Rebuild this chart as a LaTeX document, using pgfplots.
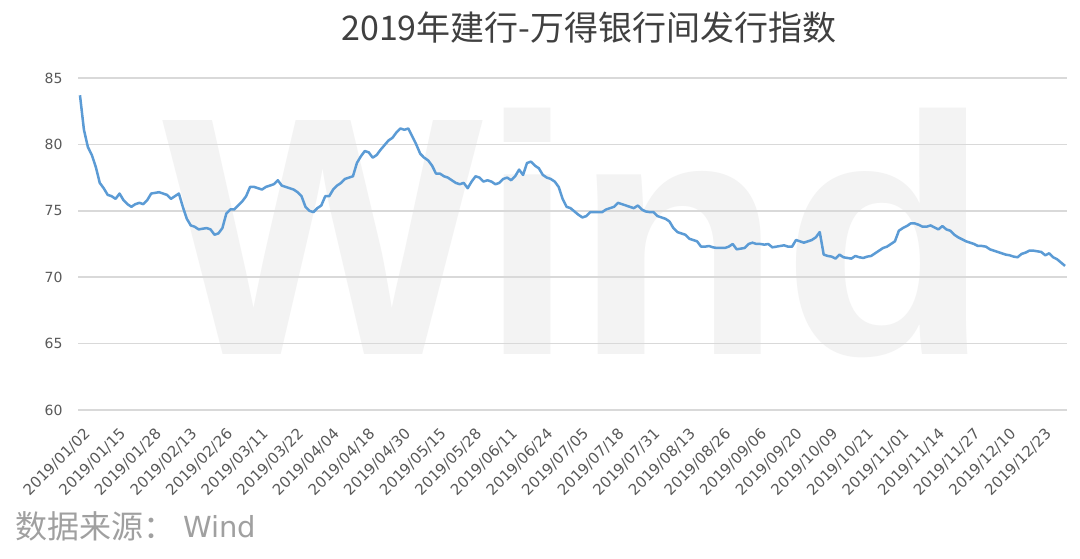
\documentclass[border=0pt]{standalone}
\usepackage{fontspec}
\setmainfont{Noto Sans CJK SC}
\newfontfamily\wmfont{Liberation Sans}
\newfontfamily\dv{DejaVu Sans}
\usepackage{pgfplots}
\pgfplotsset{compat=1.18}
\usepackage{pgfplotstable}
\definecolor{linecol}{HTML}{5B9BD5}
\definecolor{gridcol}{HTML}{D9D9D9}
\definecolor{tickcol}{HTML}{595959}
\definecolor{titlecol}{HTML}{404040}
\definecolor{srccol}{HTML}{A0A0A0}
\definecolor{wmcol}{HTML}{F3F3F3}
\pgfplotstableread{
i v
0 83.7
1 81.1
2 79.8
3 79.2
4 78.3
5 77.1
6 76.7
7 76.2
8 76.1
9 75.9
10 76.3
11 75.8
12 75.5
13 75.3
14 75.5
15 75.6
16 75.5
17 75.8
18 76.3
19 76.35
20 76.4
21 76.3
22 76.2
23 75.9
24 76.1
25 76.3
26 75.3
27 74.4
28 73.9
29 73.8
30 73.6
31 73.65
32 73.7
33 73.6
34 73.2
35 73.3
36 73.7
37 74.8
38 75.1
39 75.1
40 75.4
41 75.7
42 76.1
43 76.8
44 76.8
45 76.7
46 76.6
47 76.8
48 76.9
49 77.0
50 77.3
51 76.9
52 76.8
53 76.7
54 76.6
55 76.4
56 76.1
57 75.3
58 75.0
59 74.9
60 75.2
61 75.4
62 76.1
63 76.1
64 76.6
65 76.9
66 77.1
67 77.4
68 77.5
69 77.6
70 78.6
71 79.1
72 79.5
73 79.4
74 79.0
75 79.2
76 79.6
77 79.95
78 80.3
79 80.5
80 80.9
81 81.2
82 81.1
83 81.2
84 80.6
85 80.0
86 79.3
87 79.0
88 78.8
89 78.4
90 77.8
91 77.8
92 77.6
93 77.5
94 77.3
95 77.1
96 77.0
97 77.1
98 76.7
99 77.2
100 77.6
101 77.5
102 77.2
103 77.3
104 77.2
105 77.0
106 77.1
107 77.4
108 77.5
109 77.3
110 77.6
111 78.1
112 77.7
113 78.6
114 78.7
115 78.4
116 78.2
117 77.7
118 77.5
119 77.4
120 77.2
121 76.8
122 75.9
123 75.3
124 75.2
125 74.95
126 74.7
127 74.5
128 74.6
129 74.9
130 74.9
131 74.9
132 74.9
133 75.1
134 75.2
135 75.3
136 75.6
137 75.5
138 75.4
139 75.3
140 75.2
141 75.4
142 75.1
143 74.95
144 74.9
145 74.9
146 74.6
147 74.5
148 74.4
149 74.2
150 73.7
151 73.4
152 73.3
153 73.2
154 72.9
155 72.8
156 72.7
157 72.3
158 72.3
159 72.35
160 72.25
161 72.2
162 72.2
163 72.2
164 72.3
165 72.5
166 72.1
167 72.15
168 72.2
169 72.5
170 72.6
171 72.5
172 72.5
173 72.45
174 72.5
175 72.25
176 72.3
177 72.35
178 72.4
179 72.3
180 72.3
181 72.8
182 72.7
183 72.6
184 72.7
185 72.8
186 73.0
187 73.4
188 71.7
189 71.6
190 71.55
191 71.4
192 71.7
193 71.5
194 71.45
195 71.4
196 71.6
197 71.5
198 71.45
199 71.55
200 71.6
201 71.8
202 72.0
203 72.2
204 72.3
205 72.5
206 72.7
207 73.5
208 73.7
209 73.85
210 74.05
211 74.05
212 73.95
213 73.8
214 73.8
215 73.9
216 73.75
217 73.6
218 73.85
219 73.6
220 73.5
221 73.2
222 73.0
223 72.85
224 72.7
225 72.6
226 72.5
227 72.35
228 72.35
229 72.3
230 72.1
231 72.0
232 71.9
233 71.8
234 71.7
235 71.65
236 71.55
237 71.5
238 71.75
239 71.85
240 72.0
241 72.0
242 71.95
243 71.9
244 71.65
245 71.8
246 71.5
247 71.35
248 71.1
249 70.85
}\idx
\begin{document}
\begin{tikzpicture}[x=1pt,y=1pt]
\useasboundingbox[fill=white] (0,0) rectangle (1080,559);
% watermark
\node[anchor=base west, inner sep=0pt, text=wmcol, font=\wmfont\bfseries\fontsize{340}{340}\selectfont] at (162,204) {Wind};
\begin{axis}[
  at={(78pt,149pt)}, anchor=south west,
  width=989pt, height=332pt, scale only axis,
  xmin=-0.5, xmax=249.5, ymin=60, ymax=85,
  ytick={60,65,70,75,80,85},
  xtick={0,9,...,243},
  xticklabels={2019/01/02,2019/01/15,2019/01/28,2019/02/13,2019/02/26,2019/03/11,2019/03/22,2019/04/04,2019/04/18,2019/04/30,2019/05/15,2019/05/28,2019/06/11,2019/06/24,2019/07/05,2019/07/18,2019/07/31,2019/08/13,2019/08/26,2019/09/06,2019/09/20,2019/10/09,2019/10/21,2019/11/01,2019/11/14,2019/11/27,2019/12/10,2019/12/23},
  /pgf/number format/assume math mode=true,
  x tick label style={xshift=3pt, yshift=-17pt, rotate=45, anchor=north east, inner sep=0pt, font=\dv\fontsize{15}{15}\selectfont, text=tickcol},
  y tick label style={font=\dv\fontsize{14}{14}\selectfont, text=tickcol, xshift=-12pt},
  ymajorgrids, grid style={draw=gridcol, line width=1.5pt},
  axis line style={draw=none},
  major tick length=0pt,
  clip=false,
]
\addplot[color=linecol, line width=2.5pt, line join=round] table[x=i,y=v] {\idx};
\end{axis}
\node[text=titlecol, font=\fontsize{34}{34}\selectfont] at (589,531) {2019年建行-万得银行间发行指数};
\node[anchor=west, inner sep=0pt, text=srccol, font=\fontsize{32}{32}\selectfont] at (15,33) {数据来源：};
\node[anchor=base west, inner sep=0pt, text=srccol, font=\dv\fontsize{29}{29}\selectfont] at (183,21) {Wind};
\end{tikzpicture}
\end{document}
